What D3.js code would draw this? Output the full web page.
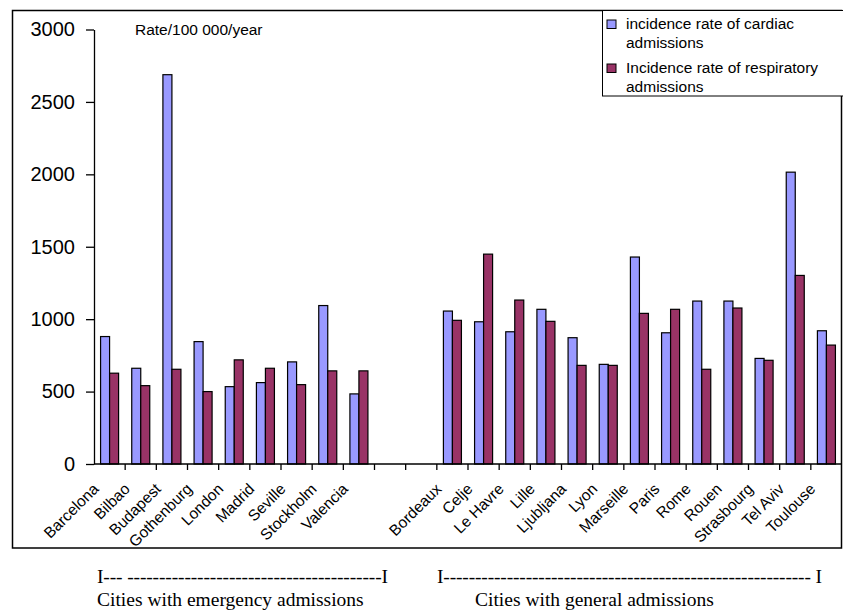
<!DOCTYPE html>
<html>
<head>
<meta charset="utf-8">
<script src="https://cdn.jsdelivr.net/npm/d3@7"></script>
<style>
  body { margin: 0; background: #fff; }
  #chart-vis { width: 843px; height: 613px; }
</style>
</head>
<body>
<div id="chart-vis"></div>
<script>

// cities in the order shown, two empty slots separate the groups
let emergencyCities = ["Barcelona", "Bilbao", "Budapest", "Gothenburg", "London", "Madrid", "Seville", "Stockholm", "Valencia"];
let generalCities = ["Bordeaux", "Celje", "Le Havre", "Lille", "Ljubljana", "Lyon", "Marseille", "Paris", "Rome", "Rouen", "Strasbourg", "Tel Aviv", "Toulouse"];

let emergencyCardiac = [880, 661, 2688, 845, 534, 562, 705, 1094, 484];
let emergencyRespiratory = [627, 541, 654, 500, 719, 661, 548, 643, 643];
let generalCardiac = [1056, 982, 913, 1068, 872, 688, 1429, 906, 1125, 1125, 729, 2015, 920];
let generalRespiratory = [992, 1449, 1132, 985, 681, 681, 1040, 1068, 654, 1077, 716, 1302, 821];

let yTicks = [0, 500, 1000, 1500, 2000, 2500, 3000];
let seriesNames = ["incidence rate of cardiac admissions", "Incidence rate of respiratory admissions"];
let seriesColors = ["#9999ff", "#993366"];

let slots = [...emergencyCities, "", "", ...generalCities];
let cardiac = [...emergencyCardiac, null, null, ...generalCardiac];
let respiratory = [...emergencyRespiratory, null, null, ...generalRespiratory];

let data = slots.map((city, i) => ({ i: i, city: city, values: [cardiac[i], respiratory[i]] }));

let svg = d3.select('#chart-vis').append('svg')
    .attr('width', 843)
    .attr('height', 613)
    .style('font-family', 'Arial, "Liberation Sans", Helvetica, sans-serif');

// outer frame
svg.append('rect')
    .attr('x', 12.5).attr('y', 10.5)
    .attr('width', 829).attr('height', 537.5)
    .attr('fill', 'none')
    .attr('stroke', '#000')
    .attr('stroke-width', 1.5);

const x0 = d3.scaleBand()
    .domain(d3.range(slots.length))
    .range([94, 842])
    .paddingInner(0);

const x1 = d3.scaleBand()
    .domain([0, 1])
    .range([0, x0.bandwidth()])
    .paddingInner(0)
    .paddingOuter(0.73);

const y = d3.scaleLinear()
    .domain([0, 3000])
    .range([464, 29.5]);

// y axis
let yAxis = svg.append('g')
    .attr('transform', 'translate(94,0)')
    .call(d3.axisLeft(y).tickValues(yTicks).tickFormat(d3.format('d'))
        .tickSize(8).tickSizeOuter(0).tickPadding(11));
yAxis.select('.domain').attr('stroke', '#000').attr('stroke-width', 1.3);
yAxis.selectAll('.tick line').attr('stroke', '#000').attr('stroke-width', 1.3);
yAxis.selectAll('.tick text')
    .attr('font-size', 20)
    .attr('font-family', 'Arial, "Liberation Sans", Helvetica, sans-serif')
    .attr('fill', '#000');

// bars
let groups = svg.append('g').selectAll('g')
    .data(data.filter(d => d.values[0] !== null))
    .join('g')
    .attr('transform', d => `translate(${x0(d.i)},0)`);

groups.selectAll('rect')
    .data(d => d.values.map((v, k) => ({ k: k, v: v })))
    .join('rect')
    .attr('x', d => x1(d.k))
    .attr('width', x1.bandwidth())
    .attr('y', d => y(d.v))
    .attr('height', d => y(0) - y(d.v))
    .attr('fill', d => seriesColors[d.k])
    .attr('stroke', '#000')
    .attr('stroke-width', 1.2);

// x axis
let xAxis = svg.append('g')
    .attr('transform', 'translate(0,464)');
xAxis.append('line')
    .attr('x1', 94).attr('x2', 842)
    .attr('stroke', '#000').attr('stroke-width', 1.3);
xAxis.selectAll('.tk')
    .data(d3.range(1, slots.length))
    .join('line')
    .attr('class', 'tk')
    .attr('x1', d => x0(d)).attr('x2', d => x0(d))
    .attr('y1', 0).attr('y2', 6)
    .attr('stroke', '#000').attr('stroke-width', 1.3);

svg.append('g').selectAll('text')
    .data(data.filter(d => d.city !== ""))
    .join('text')
    .attr('transform', d => `translate(${x0(d.i) + x0.bandwidth() / 2 - 10},490) rotate(-45)`)
    .attr('text-anchor', 'end')
    .attr('font-size', 15.5)
    .text(d => d.city);

// unit label
svg.append('text')
    .attr('x', 135).attr('y', 35)
    .attr('font-size', 15.5)
    .text('Rate/100 000/year');

// legend
let legend = svg.append('g');
legend.append('rect')
    .attr('x', 602.5).attr('y', 10.5)
    .attr('width', 250).attr('height', 85.5)
    .attr('fill', '#fff')
    .attr('stroke', '#000')
    .attr('stroke-width', 1);

let legendItems = legend.selectAll('g')
    .data(seriesNames)
    .join('g')
    .attr('transform', (d, i) => `translate(607,${20 + i * 44})`);
legendItems.append('rect')
    .attr('width', 9).attr('height', 8.5)
    .attr('fill', (d, i) => seriesColors[i])
    .attr('stroke', '#000');
legendItems.append('text')
    .attr('x', 19).attr('y', 9)
    .attr('font-size', 15.5)
    .text(d => d.split(' admissions')[0]);
legendItems.append('text')
    .attr('x', 19).attr('y', 28)
    .attr('font-size', 15.5)
    .text('admissions');

// group captions underneath
let captions = svg.append('g')
    .attr('font-family', '"Liberation Serif", "Times New Roman", Times, serif')
    .attr('font-size', 19.5);
captions.append('text')
    .attr('x', 97).attr('y', 583)
    .attr('textLength', 291).attr('lengthAdjust', 'spacing')
    .text('I--- ' + '-'.repeat(40) + 'I');
captions.append('text')
    .attr('x', 97).attr('y', 606)
    .text('Cities with emergency admissions');
captions.append('text')
    .attr('x', 437).attr('y', 583)
    .attr('textLength', 385).attr('lengthAdjust', 'spacing')
    .text('I' + '-'.repeat(58) + ' I');
captions.append('text')
    .attr('x', 475).attr('y', 606)
    .text('Cities with general admissions');

</script>
</body>
</html>
